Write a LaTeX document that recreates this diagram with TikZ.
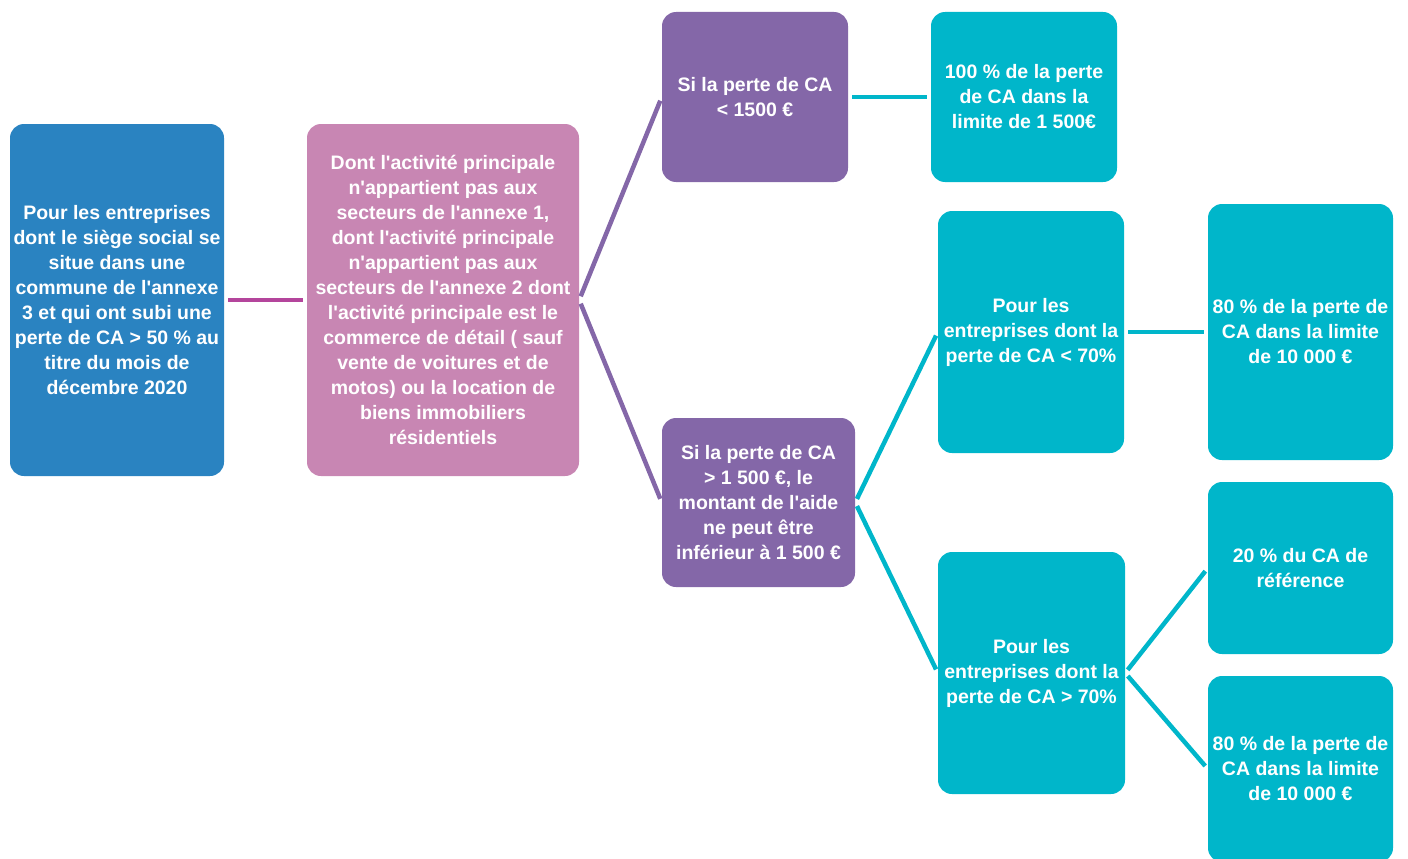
\documentclass[tikz,border=0pt]{standalone}
\usepackage{fontspec}
\setmainfont{Liberation Sans}[Ligatures=TeXOff]
\usetikzlibrary{positioning}
\usepackage{xcolor}

\definecolor{aideblue}{HTML}{2A83C1}
\definecolor{aidepink}{HTML}{C886B3}
\definecolor{aidepurple}{HTML}{8467A8}
\definecolor{aideteal}{HTML}{00B6CA}
\definecolor{aidemagenta}{HTML}{B4459C}

\tikzset{
  aidebox/.style={rounded corners=14pt, inner sep=0pt, align=center, text=white,
    font=\bfseries\fontsize{19.5}{25}\selectfont},
  aidelink/.style={line width=4.5pt, shorten <=4pt, shorten >=4pt},
}

\begin{document}
\begin{tikzpicture}[x=1pt,y=-1pt]
\useasboundingbox (0,0) rectangle (1408,859);
% first level
\node[aidebox, fill=aideblue, minimum width=214pt, minimum height=352pt] (siege) at (117,300)
  {Pour les entreprises\\dont le siège social se\\situe dans une\\commune de l'annexe\\3 et qui ont subi une\\perte de CA > 50 \% au\\titre du mois de\\décembre 2020};
\node[aidebox, fill=aidepink, minimum width=272pt, minimum height=352pt] (activite) at (443,300)
  {Dont l'activité principale\\n'appartient pas aux\\secteurs de l'annexe 1,\\dont l'activité principale\\n'appartient pas aux\\secteurs de l'annexe 2 dont\\l'activité principale est le\\commerce de détail ( sauf\\vente de voitures et de\\motos) ou la location de\\biens immobiliers\\résidentiels};
% second level
\node[aidebox, fill=aidepurple, minimum width=186pt, minimum height=170pt] (moins) at (755,97)
  {Si la perte de CA\\< 1500 €};
\node[aidebox, fill=aidepurple, minimum width=193pt, minimum height=169pt] (plus) at (758.5,502.5)
  {Si la perte de CA\\> 1 500 €, le\\montant de l'aide\\ne peut être\\inférieur à 1 500 €};
% third level
\node[aidebox, fill=aideteal, minimum width=186pt, minimum height=170pt] (cent) at (1024,97)
  {100 \% de la perte\\de CA dans la\\limite de 1 500€};
\node[aidebox, fill=aideteal, minimum width=186pt, minimum height=242pt] (infsoixdix) at (1031,332)
  {Pour les\\entreprises dont la\\perte de CA < 70\%};
\node[aidebox, fill=aideteal, minimum width=187pt, minimum height=242pt] (supsoixdix) at (1031.5,673)
  {Pour les\\entreprises dont la\\perte de CA > 70\%};
% fourth level
\node[aidebox, fill=aideteal, minimum width=185pt, minimum height=256pt] (quatrevingt) at (1300.5,332)
  {80 \% de la perte de\\CA dans la limite\\de 10 000 €};
\node[aidebox, fill=aideteal, minimum width=185pt, minimum height=172pt] (vingt) at (1300.5,568)
  {20 \% du CA de\\référence};
\node[aidebox, fill=aideteal, minimum width=185pt, minimum height=186pt] (quatrevingtbis) at (1300.5,769)
  {80 \% de la perte de\\CA dans la limite\\de 10 000 €};
% links
\draw[aidelink, aidemagenta] (siege.east) -- (activite.west);
\draw[aidelink, aidepurple] (activite.east) -- (moins.west);
\draw[aidelink, aidepurple] (activite.east) -- (plus.west);
\draw[aidelink, aideteal] (moins.east) -- (cent.west);
\draw[aidelink, aideteal] (plus.east) -- (infsoixdix.west);
\draw[aidelink, aideteal] (plus.east) -- (supsoixdix.west);
\draw[aidelink, aideteal] (infsoixdix.east) -- (quatrevingt.west);
\draw[aidelink, aideteal] (supsoixdix.east) -- (vingt.west);
\draw[aidelink, aideteal] (supsoixdix.east) -- (quatrevingtbis.west);
\end{tikzpicture}
\end{document}
